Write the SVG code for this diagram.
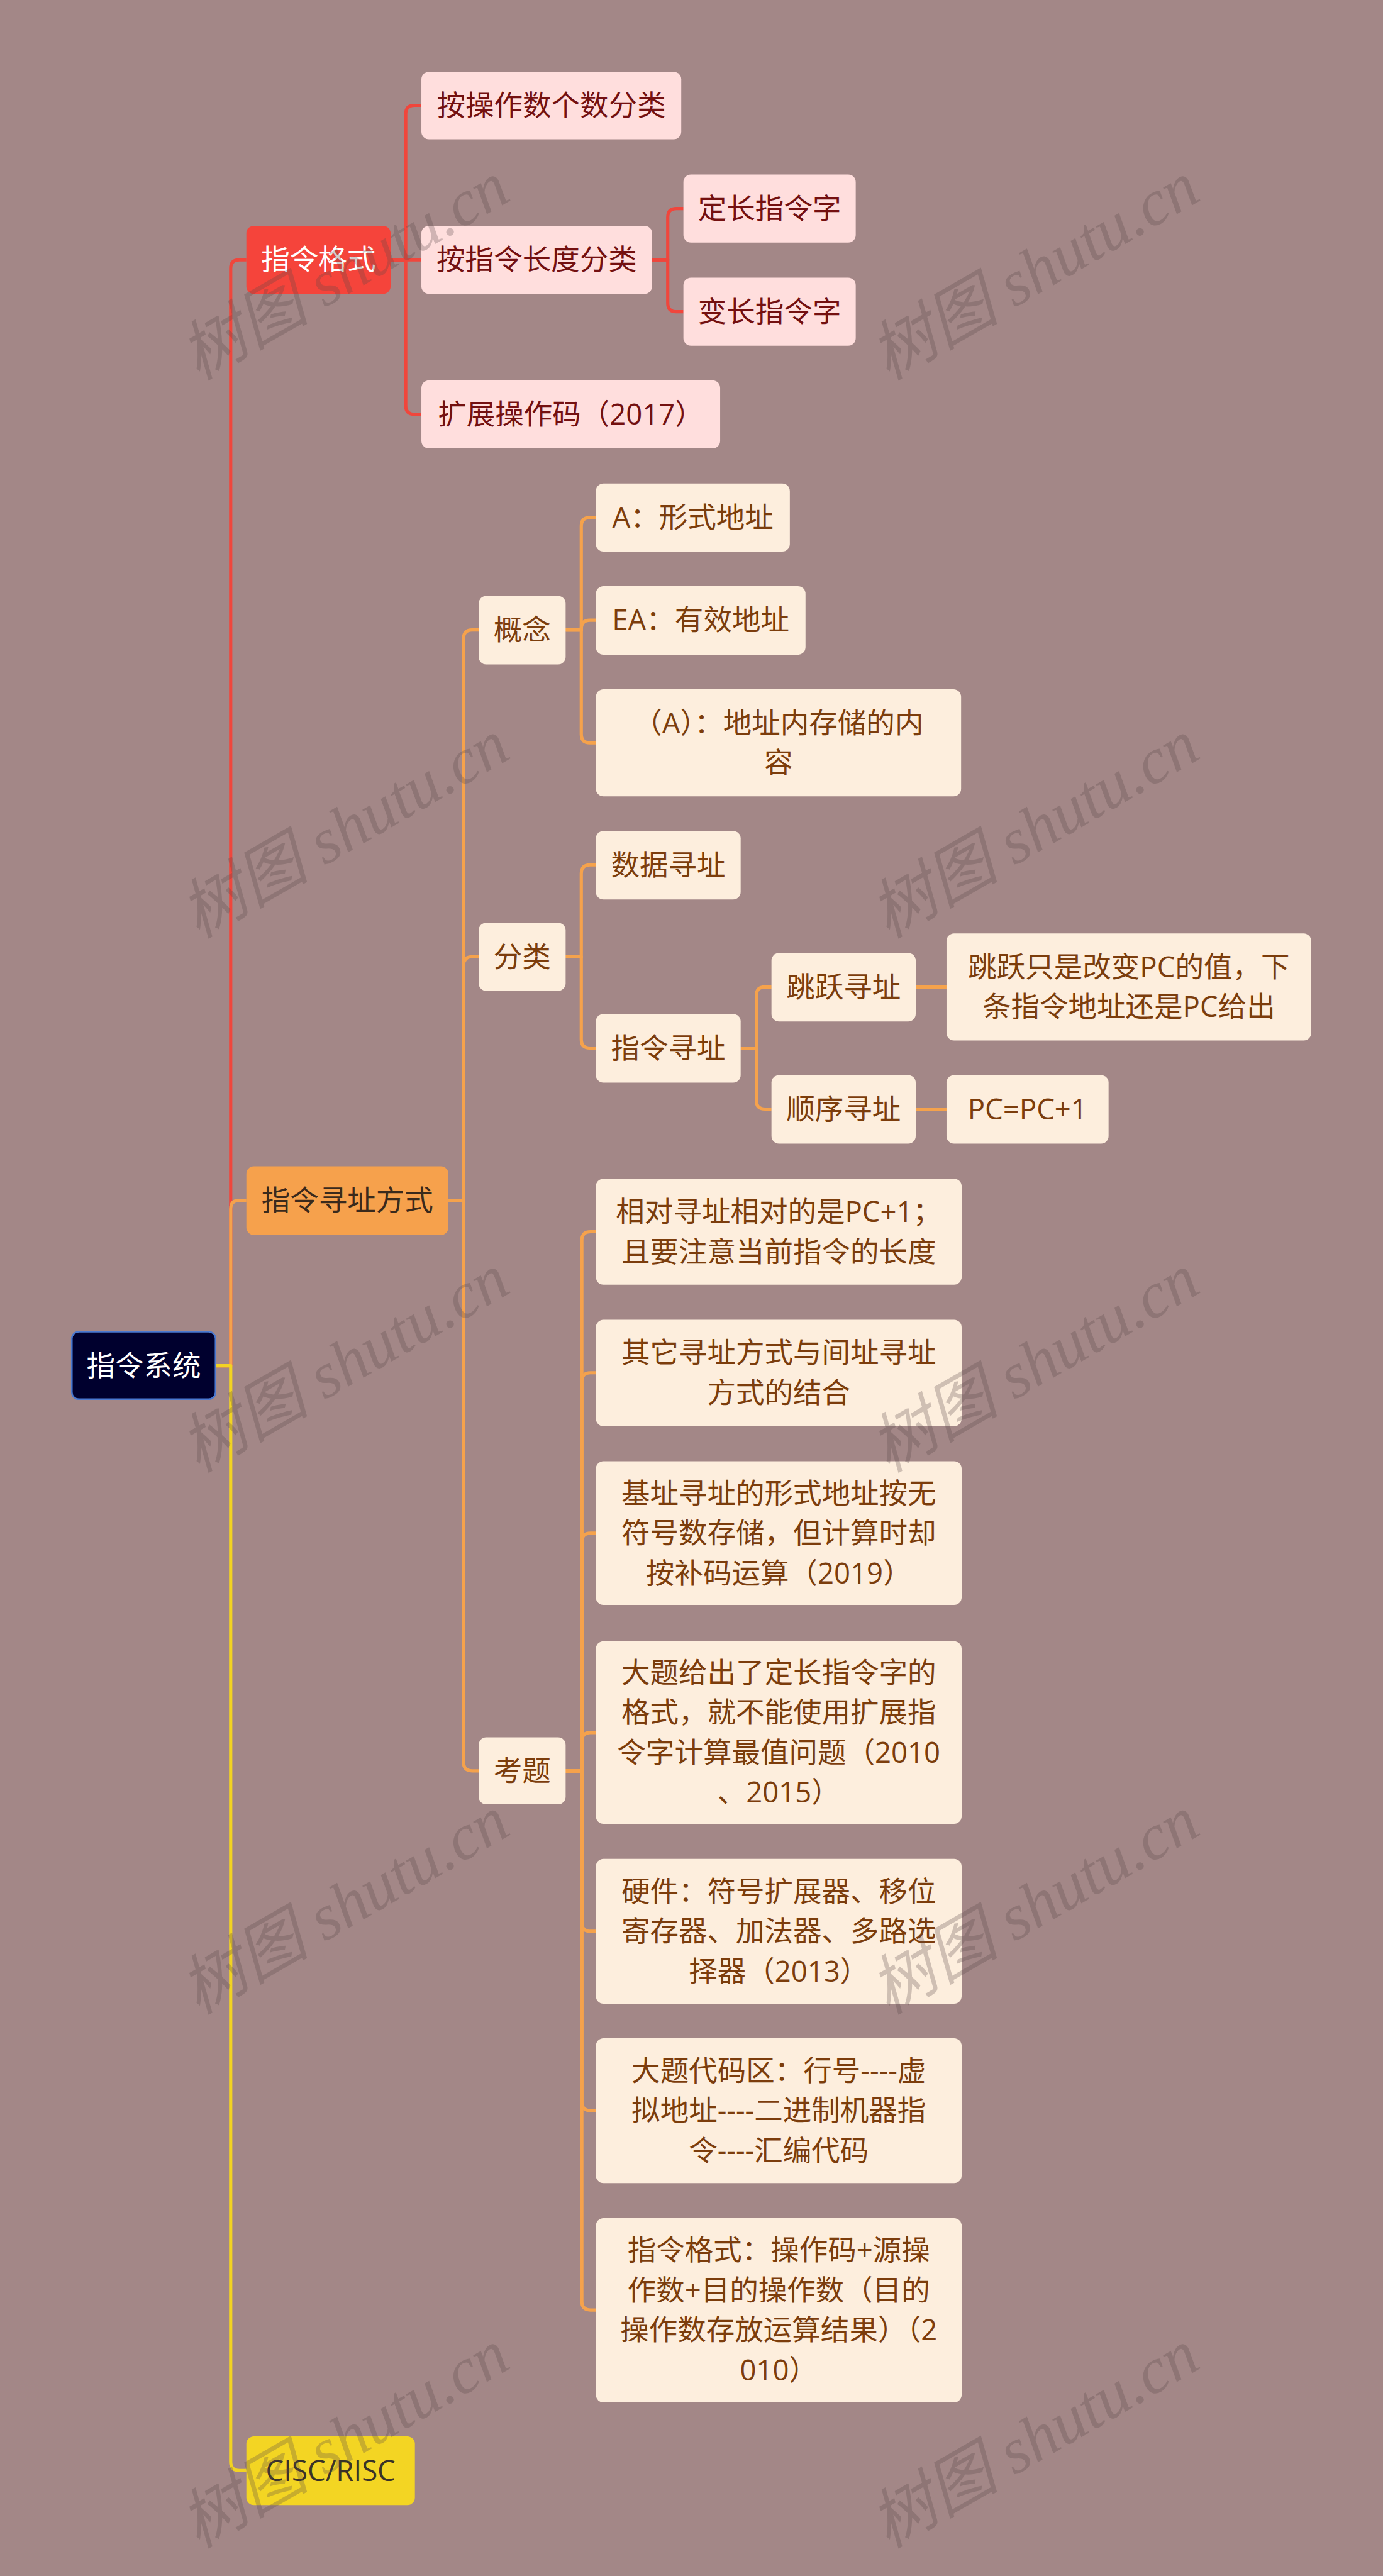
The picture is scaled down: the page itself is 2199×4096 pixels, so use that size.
<svg xmlns="http://www.w3.org/2000/svg" width="2199" height="4096" viewBox="0 0 2199 4096">
<defs>
<style>
.t{font-family:"Open Sans","Noto Sans CJK SC",sans-serif;font-size:53px;text-anchor:middle}
.pk{fill:#ffdedd}
.cr{fill:#fdeedd}
.rt{fill:#741010}
.bt{fill:#7c3d0c}
.cR{fill:none;stroke:#f0463c;stroke-width:6;stroke-linejoin:round}
.cO{fill:none;stroke:#f5a24c;stroke-width:6;stroke-linejoin:round}
.cY{fill:none;stroke:#f2d322;stroke-width:6;stroke-linejoin:round}
.wm{font-family:"Liberation Serif","Noto Sans CJK SC",serif;font-style:italic;font-size:120px;fill:#5a4848;opacity:0.28;text-anchor:middle}
</style>
</defs>
<rect width="2199" height="4096" fill="#a38787"/>
<g transform="scale(0.859)">
<g id="connectors">
<path class="cR" d="M399,2528 H427 V497 Q427,481 443,481 H456"/>
<path class="cO" d="M399,2528 H427 V2238 Q427,2222 443,2222 H456"/>
<path class="cY" d="M399,2528 H427 V4557 Q427,4573 443,4573 H456"/>
<path class="cR" d="M723,481 H751 V211 Q751,195 767,195 H780"/>
<path class="cR" d="M723,481 H780"/>
<path class="cR" d="M723,481 H751 V751 Q751,767 767,767 H780"/>
<path class="cR" d="M1207,481 H1236 V402 Q1236,386 1252,386 H1265"/>
<path class="cR" d="M1207,481 H1236 V561 Q1236,577 1252,577 H1265"/>
<path class="cO" d="M830,2222 H858 V1182 Q858,1166 874,1166 H886"/>
<path class="cO" d="M830,2222 H858 V1787 Q858,1771 874,1771 H886"/>
<path class="cO" d="M830,2222 H858 V3262 Q858,3278 874,3278 H886"/>
<path class="cO" d="M1047,1166 H1076 V974 Q1076,958 1092,958 H1103"/>
<path class="cO" d="M1047,1166 H1076 V1164 Q1076,1148 1092,1148 H1103"/>
<path class="cO" d="M1047,1166 H1076 V1359 Q1076,1375 1092,1375 H1103"/>
<path class="cO" d="M1047,1771 H1076 V1617 Q1076,1601 1092,1601 H1103"/>
<path class="cO" d="M1047,1771 H1076 V1924 Q1076,1940 1092,1940 H1103"/>
<path class="cO" d="M1371,1940 H1400 V1843 Q1400,1827 1416,1827 H1428"/>
<path class="cO" d="M1371,1940 H1400 V2037 Q1400,2053 1416,2053 H1428"/>
<path class="cO" d="M1695,1827 H1752"/>
<path class="cO" d="M1695,2053 H1752"/>
<path class="cO" d="M1047,3278 H1077 V2296 Q1077,2280 1093,2280 H1103"/>
<path class="cO" d="M1047,3278 H1077 V2557 Q1077,2541 1093,2541 H1103"/>
<path class="cO" d="M1047,3278 H1077 V2854 Q1077,2838 1093,2838 H1103"/>
<path class="cO" d="M1047,3278 H1077 V3223 Q1077,3207 1093,3207 H1103"/>
<path class="cO" d="M1047,3278 H1077 V3559 Q1077,3575 1093,3575 H1103"/>
<path class="cO" d="M1047,3278 H1077 V3891 Q1077,3907 1093,3907 H1103"/>
<path class="cO" d="M1047,3278 H1077 V4260 Q1077,4276 1093,4276 H1103"/>
</g>
<g id="n-root"><rect x="133" y="2465" width="266" height="125" rx="13" fill="#00002e" stroke="#4a78d0" stroke-width="3"/><text class="t" x="266" y="2547" fill="#ffffff">指令系统</text></g>
<g id="n-fmt"><rect x="456" y="418" width="267" height="126" rx="14" fill="#f5443b"/><text class="t" x="589.5" y="500" fill="#ffffff">指令格式</text></g>
<g id="n-addr"><rect x="456" y="2159" width="374" height="127" rx="14" fill="#f6a14c"/><text class="t" x="643" y="2241" fill="#3a2a1c">指令寻址方式</text></g>
<g id="n-cisc"><rect x="456" y="4510" width="312" height="127" rx="14" fill="#f3d523"/><text class="t" x="612" y="4592" fill="#3a3328">CISC/RISC</text></g>
<g id="n-f1"><rect class="pk" x="780" y="133" width="481" height="125" rx="14"/><text class="t rt" x="1020.5" y="214">按操作数个数分类</text></g>
<g id="n-f2"><rect class="pk" x="780" y="418" width="427" height="126" rx="14"/><text class="t rt" x="993.5" y="500">按指令长度分类</text></g>
<g id="n-f3"><rect class="pk" x="780" y="704" width="553" height="126" rx="14"/><text class="t rt" x="1056.5" y="786">扩展操作码（2017）</text></g>
<g id="n-f21"><rect class="pk" x="1265" y="323" width="319" height="126" rx="14"/><text class="t rt" x="1424.5" y="405">定长指令字</text></g>
<g id="n-f22"><rect class="pk" x="1265" y="514" width="319" height="126" rx="14"/><text class="t rt" x="1424.5" y="596">变长指令字</text></g>
<g id="n-gn"><rect class="cr" x="886" y="1103" width="161" height="127" rx="14"/><text class="t bt" x="966.5" y="1185">概念</text></g>
<g id="n-fl"><rect class="cr" x="886" y="1708" width="161" height="126" rx="14"/><text class="t bt" x="966.5" y="1790">分类</text></g>
<g id="n-kt"><rect class="cr" x="886" y="3216" width="161" height="124" rx="14"/><text class="t bt" x="966.5" y="3297">考题</text></g>
<g id="n-g1"><rect class="cr" x="1103" y="895" width="359" height="126" rx="14"/><text class="t bt" x="1282.5" y="977">A：形式地址</text></g>
<g id="n-g2"><rect class="cr" x="1103" y="1085" width="388" height="127" rx="14"/><text class="t bt" x="1297" y="1167">EA：有效地址</text></g>
<g id="n-g3"><rect class="cr" x="1103" y="1276" width="676" height="198" rx="14"/><text class="t bt" x="1441" y="1357">（A）：地址内存储的内</text><text class="t bt" x="1441" y="1431">容</text></g>
<g id="n-l1"><rect class="cr" x="1103" y="1538" width="268" height="127" rx="14"/><text class="t bt" x="1237" y="1620">数据寻址</text></g>
<g id="n-l2"><rect class="cr" x="1103" y="1877" width="268" height="127" rx="14"/><text class="t bt" x="1237" y="1959">指令寻址</text></g>
<g id="n-l21"><rect class="cr" x="1428" y="1764" width="267" height="127" rx="14"/><text class="t bt" x="1561.5" y="1846">跳跃寻址</text></g>
<g id="n-l22"><rect class="cr" x="1428" y="1990" width="267" height="127" rx="14"/><text class="t bt" x="1561.5" y="2072">顺序寻址</text></g>
<g id="n-l211"><rect class="cr" x="1752" y="1728" width="675" height="198" rx="14"/><text class="t bt" x="2089.5" y="1809">跳跃只是改变PC的值，下</text><text class="t bt" x="2089.5" y="1883">条指令地址还是PC给出</text></g>
<g id="n-l221"><rect class="cr" x="1752" y="1990" width="300" height="127" rx="14"/><text class="t bt" x="1902" y="2072">PC=PC+1</text></g>
<g id="n-k1"><rect class="cr" x="1103" y="2182" width="677" height="196" rx="14"/><text class="t bt" x="1441.5" y="2262">相对寻址相对的是PC+1；</text><text class="t bt" x="1441.5" y="2336">且要注意当前指令的长度</text></g>
<g id="n-k2"><rect class="cr" x="1103" y="2443" width="677" height="197" rx="14"/><text class="t bt" x="1441.5" y="2523">其它寻址方式与间址寻址</text><text class="t bt" x="1441.5" y="2597">方式的结合</text></g>
<g id="n-k3"><rect class="cr" x="1103" y="2705" width="677" height="266" rx="14"/><text class="t bt" x="1441.5" y="2783">基址寻址的形式地址按无</text><text class="t bt" x="1441.5" y="2857">符号数存储，但计算时却</text><text class="t bt" x="1441.5" y="2931">按补码运算（2019）</text></g>
<g id="n-k4"><rect class="cr" x="1103" y="3038" width="677" height="338" rx="14"/><text class="t bt" x="1441.5" y="3115">大题给出了定长指令字的</text><text class="t bt" x="1441.5" y="3189">格式，就不能使用扩展指</text><text class="t bt" x="1441.5" y="3263">令字计算最值问题（2010</text><text class="t bt" x="1441.5" y="3337">、2015）</text></g>
<g id="n-k5"><rect class="cr" x="1103" y="3441" width="677" height="268" rx="14"/><text class="t bt" x="1441.5" y="3520">硬件：符号扩展器、移位</text><text class="t bt" x="1441.5" y="3594">寄存器、加法器、多路选</text><text class="t bt" x="1441.5" y="3668">择器（2013）</text></g>
<g id="n-k6"><rect class="cr" x="1103" y="3773" width="677" height="268" rx="14"/><text class="t bt" x="1441.5" y="3852">大题代码区：行号----虚</text><text class="t bt" x="1441.5" y="3926">拟地址----二进制机器指</text><text class="t bt" x="1441.5" y="4000">令----汇编代码</text></g>
<g id="n-k7"><rect class="cr" x="1103" y="4106" width="677" height="341" rx="14"/><text class="t bt" x="1441.5" y="4184">指令格式：操作码+源操</text><text class="t bt" x="1441.5" y="4258">作数+目的操作数（目的</text><text class="t bt" x="1441.5" y="4332">操作数存放运算结果）（2</text><text class="t bt" x="1441.5" y="4406">010）</text></g>
<g id="watermarks">
<text class="wm" transform="translate(638,502) rotate(-30)" y="40">树图 shutu.cn</text>
<text class="wm" transform="translate(1915,502) rotate(-30)" y="40">树图 shutu.cn</text>
<text class="wm" transform="translate(638,1535) rotate(-30)" y="40">树图 shutu.cn</text>
<text class="wm" transform="translate(1915,1535) rotate(-30)" y="40">树图 shutu.cn</text>
<text class="wm" transform="translate(638,2524) rotate(-30)" y="40">树图 shutu.cn</text>
<text class="wm" transform="translate(1915,2524) rotate(-30)" y="40">树图 shutu.cn</text>
<text class="wm" transform="translate(638,3527) rotate(-30)" y="40">树图 shutu.cn</text>
<text class="wm" transform="translate(1915,3527) rotate(-30)" y="40">树图 shutu.cn</text>
<text class="wm" transform="translate(638,4515) rotate(-30)" y="40">树图 shutu.cn</text>
<text class="wm" transform="translate(1915,4515) rotate(-30)" y="40">树图 shutu.cn</text>
</g>
</g>
</svg>
